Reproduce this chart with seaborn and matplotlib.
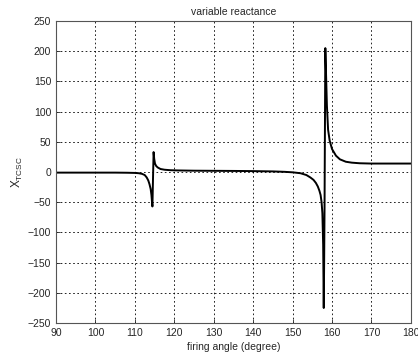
import pandas as pd
import matplotlib
matplotlib.use("Agg")
import matplotlib.pyplot as plt
import seaborn as sns

# firing angle (degree) vs TCSC reactance
angle = [90, 95, 100, 105, 108, 110, 111, 111.8, 112.5, 113, 113.4, 113.7,
         114.0, 114.2, 114.35, 114.45, 114.6, 114.75, 114.9, 115.1, 115.4,
         115.8, 116.5, 117.5, 119, 121, 125, 130, 135, 140, 145, 148, 150,
         152, 153.5, 154.5, 155.3, 155.9, 156.4, 156.8, 157.1, 157.35,
         157.55, 157.75, 157.9, 158.0, 158.1, 158.3, 158.45, 158.7, 159.0,
         159.4, 160, 161, 162, 163.5, 165, 167, 170, 175, 180]
x_tcsc = [-1, -1, -1, -1, -1.2, -1.5, -2, -3, -5, -9, -14, -20,
          -28, -38, -50, -57, -10, 33, 22, 14, 10,
          7.5, 5, 3.8, 3, 2.6, 2.2, 2, 1.8, 1.5, 1, 0.3, -0.5,
          -2, -5, -9, -13, -18, -24, -31, -38, -50,
          -68, -120, -225, -150, -60, 205, 170, 110, 70,
          52, 38, 27, 21, 17, 15.5, 14.5, 14, 14, 14]

xticks = list(range(90, 181, 10))
yticks = list(range(-250, 251, 50))

df = pd.DataFrame({"angle": angle, "x": x_tcsc})

sns.set_style("ticks")
plt.rcParams['font.family'] = ['Liberation Sans', 'DejaVu Sans']

fig = plt.figure(figsize=(4.18, 3.61), dpi=100)
ax = fig.add_axes([0.134, 0.105, 0.849, 0.837])
sns.lineplot(data=df, x="angle", y="x", sort=False, estimator=None,
             color="black", linewidth=1.4, ax=ax)

ax.set_xlim(90, 180)
ax.set_ylim(-250, 250)
ax.set_xticks(xticks)
ax.set_yticks(yticks)
ax.grid(True, color="black", linestyle=(0, (2, 3)), linewidth=0.6)
ax.tick_params(direction="in", labelsize=7.5, length=3, width=0.6)
for s in ax.spines.values():
    s.set_visible(True)
    s.set_linewidth(0.8)
    s.set_color("#555555")

ax.set_title("variable reactance", fontsize=7.5, pad=4)
ax.set_xlabel("firing angle (degree)", fontsize=7.5, labelpad=3)
ax.set_ylabel("X$_{\\mathregular{TCSC}}$", fontsize=8.5, labelpad=2)

fig.savefig("out.png", dpi=100)
